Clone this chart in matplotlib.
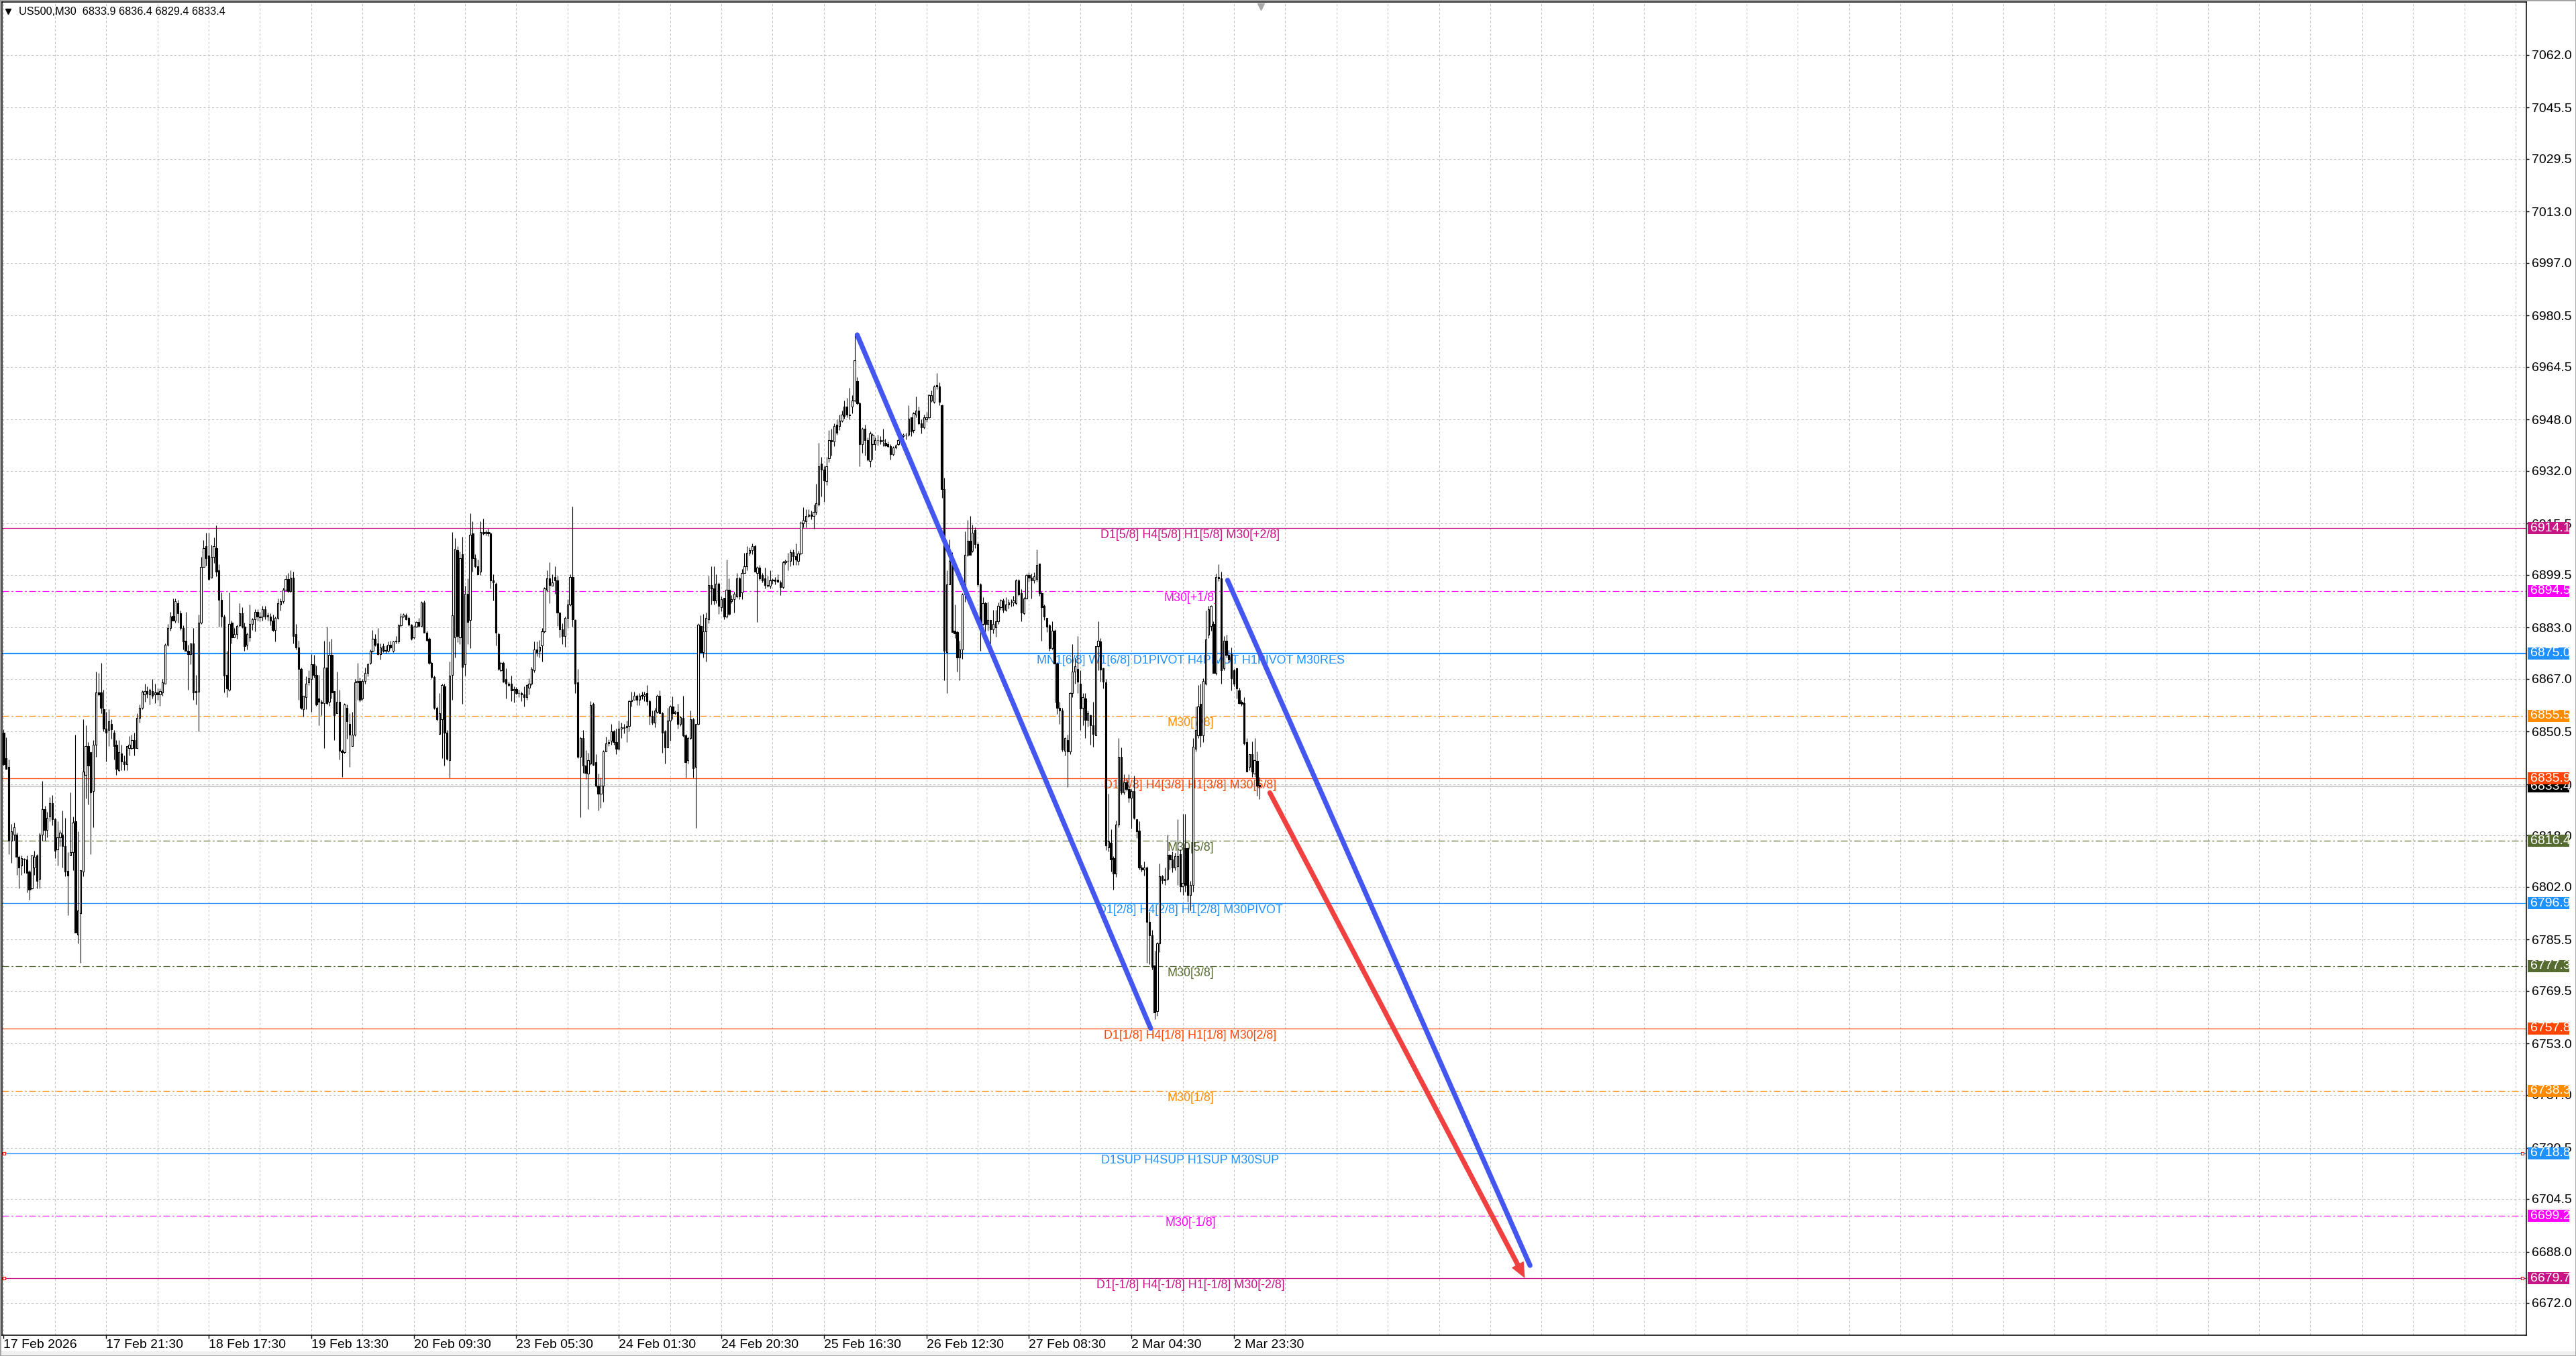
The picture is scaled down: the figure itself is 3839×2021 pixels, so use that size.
import numpy as np
import matplotlib.pyplot as plt
import matplotlib.transforms as mtransforms
from matplotlib.patches import Rectangle
from matplotlib.lines import Line2D

plt.rcParams['font.family'] = ['Liberation Sans', 'DejaVu Sans']
NARROW = ['Liberation Sans Narrow', 'Liberation Sans', 'DejaVu Sans']

header = "US500,M30  6833.9 6836.4 6829.4 6833.4"

# US500 M30 candles, oldest first: (open, high, low, close)
bars_17_20feb = [
    (6850.1, 6851.3, 6839.8, 6840.3), (6842.2, 6848.7, 6838.9, 6838.9), (6839.4, 6841.7, 6812.3, 6816.5),
    (6816.5, 6821.7, 6809.5, 6819.3), (6818.4, 6822.1, 6816.5, 6820.7), (6818.4, 6819.0, 6805.8, 6811.4),
    (6811.4, 6811.9, 6801.6, 6808.1), (6808.6, 6811.9, 6805.8, 6810.9), (6810.7, 6810.9, 6806.3, 6810.5),
    (6810.5, 6811.9, 6800.2, 6806.3), (6806.7, 6807.2, 6797.9, 6801.1), (6801.6, 6811.9, 6801.1, 6811.9),
    (6808.1, 6813.3, 6805.8, 6811.4), (6811.9, 6812.3, 6801.6, 6803.9), (6804.4, 6818.9, 6801.6, 6818.4),
    (6818.4, 6835.0, 6816.5, 6826.3), (6826.3, 6827.3, 6816.5, 6819.8), (6819.8, 6825.4, 6817.5, 6823.5),
    (6824.0, 6830.0, 6822.6, 6828.2), (6828.2, 6830.7, 6821.2, 6823.1), (6823.1, 6823.5, 6810.9, 6813.3),
    (6813.7, 6822.6, 6808.6, 6817.5), (6817.5, 6819.8, 6814.7, 6818.9), (6818.4, 6825.9, 6808.1, 6814.7),
    (6814.7, 6823.5, 6805.3, 6806.7), (6807.0, 6812.8, 6793.2, 6805.5), (6811.9, 6831.5, 6811.9, 6812.8),
    (6812.8, 6824.0, 6807.2, 6822.1), (6822.6, 6849.6, 6787.6, 6787.6), (6787.1, 6819.3, 6784.3, 6794.6),
    (6793.7, 6807.2, 6778.3, 6807.2), (6806.7, 6854.3, 6805.3, 6838.0), (6837.0, 6852.4, 6829.6, 6845.9),
    (6845.9, 6847.3, 6827.7, 6839.8), (6844.0, 6844.0, 6812.3, 6831.5), (6831.9, 6847.8, 6820.7, 6846.4),
    (6846.4, 6869.2, 6842.6, 6862.7), (6862.7, 6868.8, 6861.8, 6862.2), (6862.7, 6872.0, 6856.2, 6858.0),
    (6857.6, 6863.6, 6850.6, 6851.5), (6851.5, 6856.6, 6841.2, 6850.1), (6851.0, 6857.6, 6845.9, 6853.8),
    (6852.9, 6854.3, 6848.2, 6851.2), (6850.1, 6851.0, 6841.7, 6845.9), (6846.4, 6847.8, 6837.0, 6838.9),
    (6838.4, 6847.8, 6838.0, 6844.0), (6843.6, 6846.4, 6838.4, 6841.2), (6841.2, 6843.1, 6838.4, 6840.3),
    (6840.3, 6845.9, 6838.4, 6845.9), (6845.4, 6849.2, 6843.1, 6846.4), (6845.4, 6849.6, 6845.0, 6847.8),
    (6847.8, 6850.1, 6843.1, 6845.4), (6845.4, 6856.2, 6845.4, 6854.8), (6854.8, 6859.0, 6853.4, 6858.0),
    (6858.0, 6863.4, 6857.6, 6863.0), (6862.2, 6865.5, 6859.9, 6863.2), (6863.2, 6864.6, 6861.0, 6862.4),
    (6862.2, 6864.1, 6859.0, 6863.6), (6863.2, 6866.9, 6860.8, 6861.8), (6862.2, 6865.5, 6859.4, 6862.7),
    (6862.7, 6864.0, 6860.5, 6862.2), (6862.2, 6864.1, 6858.5, 6863.2), (6862.7, 6866.9, 6861.8, 6866.0),
    (6865.5, 6878.1, 6865.5, 6877.6), (6877.6, 6884.2, 6877.2, 6882.8), (6882.8, 6887.9, 6882.0, 6886.5),
    (6886.7, 6892.1, 6885.1, 6885.1), (6885.1, 6892.1, 6884.6, 6891.2), (6890.7, 6891.6, 6884.6, 6887.4),
    (6887.4, 6888.4, 6882.3, 6882.8), (6882.8, 6883.7, 6876.2, 6878.6), (6879.0, 6887.9, 6875.8, 6875.8),
    (6875.8, 6877.6, 6863.6, 6874.8), (6874.8, 6878.1, 6871.6, 6878.1), (6878.1, 6882.8, 6860.4, 6862.7),
    (6863.2, 6868.3, 6859.0, 6862.7), (6863.0, 6887.0, 6850.6, 6884.6), (6884.6, 6905.1, 6884.2, 6901.9),
    (6901.9, 6910.3, 6901.9, 6907.9), (6908.4, 6912.6, 6902.3, 6904.7), (6905.6, 6912.6, 6897.7, 6898.1),
    (6898.6, 6908.9, 6898.6, 6905.1), (6905.1, 6911.2, 6903.3, 6908.4), (6907.9, 6914.9, 6899.1, 6900.5),
    (6901.0, 6902.8, 6883.2, 6891.6), (6891.6, 6893.9, 6883.2, 6886.5), (6886.5, 6887.0, 6862.7, 6868.0),
    (6868.3, 6875.8, 6861.3, 6864.1), (6863.6, 6893.9, 6863.2, 6884.2), (6884.6, 6885.1, 6878.1, 6880.0),
    (6880.0, 6882.8, 6880.0, 6880.9), (6880.9, 6884.0, 6879.6, 6883.5), (6883.7, 6890.7, 6883.2, 6887.4),
    (6887.4, 6889.3, 6882.8, 6883.2), (6883.2, 6884.6, 6875.8, 6877.2), (6877.6, 6881.4, 6876.2, 6880.9),
    (6880.0, 6890.2, 6878.6, 6884.2), (6884.2, 6886.0, 6882.3, 6885.6), (6885.6, 6888.8, 6881.8, 6887.9),
    (6887.9, 6888.8, 6885.1, 6886.5), (6886.5, 6888.0, 6885.0, 6886.2), (6886.5, 6889.8, 6885.1, 6888.8),
    (6888.8, 6889.8, 6885.6, 6886.5), (6886.5, 6887.8, 6885.2, 6886.8), (6886.5, 6887.4, 6883.7, 6885.1),
    (6885.1, 6887.0, 6881.8, 6882.3), (6882.3, 6886.5, 6878.6, 6886.0), (6886.0, 6892.1, 6885.6, 6890.7),
    (6890.2, 6892.1, 6888.4, 6891.2), (6891.2, 6895.4, 6890.7, 6894.9), (6894.9, 6899.5, 6894.4, 6898.1),
    (6898.1, 6900.0, 6893.9, 6894.4), (6894.4, 6901.0, 6893.9, 6898.6), (6898.6, 6900.5, 6878.1, 6880.4),
    (6880.9, 6884.2, 6876.2, 6876.7), (6876.7, 6879.0, 6860.4, 6870.2), (6870.2, 6870.6, 6857.6, 6858.0),
    (6857.6, 6861.8, 6855.2, 6861.8), (6861.3, 6867.8, 6857.6, 6865.5), (6866.0, 6869.7, 6865.0, 6867.1),
    (6866.9, 6874.8, 6856.6, 6871.6), (6871.6, 6874.4, 6867.4, 6868.3), (6868.3, 6871.1, 6858.5, 6859.0),
    (6860.8, 6868.3, 6852.4, 6859.9), (6859.9, 6860.4, 6855.7, 6859.4), (6859.4, 6879.0, 6845.4, 6870.6),
    (6870.6, 6883.2, 6859.0, 6859.4), (6859.9, 6878.6, 6858.5, 6874.4), (6874.4, 6879.5, 6860.8, 6862.7),
    (6863.2, 6863.2, 6847.8, 6855.7), (6856.2, 6869.2, 6856.2, 6859.9), (6859.9, 6863.6, 6841.7, 6844.5),
    (6844.5, 6845.0, 6836.3, 6844.0), (6844.0, 6859.4, 6843.6, 6859.0), (6858.0, 6859.0, 6848.2, 6853.8),
    (6852.9, 6856.2, 6839.4, 6849.6), (6845.9, 6856.6, 6845.9, 6849.6), (6849.6, 6866.9, 6849.2, 6866.0),
    (6866.0, 6872.0, 6860.4, 6866.4), (6866.4, 6867.4, 6859.9, 6860.4), (6860.8, 6866.9, 6860.4, 6866.4),
    (6866.4, 6870.6, 6865.5, 6868.8), (6868.8, 6872.0, 6867.8, 6871.6), (6872.0, 6876.2, 6871.6, 6875.8),
    (6875.8, 6882.3, 6875.3, 6879.5), (6879.5, 6880.9, 6877.2, 6877.6), (6878.1, 6882.8, 6874.4, 6874.8),
    (6874.8, 6878.1, 6873.0, 6876.7), (6877.2, 6878.1, 6875.3, 6875.8), (6875.8, 6877.4, 6874.9, 6876.0),
    (6875.8, 6878.6, 6875.3, 6877.6), (6877.6, 6878.8, 6876.4, 6876.9), (6875.8, 6879.0, 6875.3, 6878.6),
    (6879.0, 6880.4, 6878.1, 6878.6), (6878.6, 6884.2, 6878.1, 6883.7), (6883.7, 6887.4, 6883.2, 6886.5),
]

bars_20_24feb = [
    (6886.5, 6887.6, 6886.2, 6887.0), (6886.9, 6887.4, 6885.3, 6885.7), (6886.1, 6886.5, 6883.6, 6884.0),
    (6884.0, 6884.2, 6879.1, 6879.5), (6880.0, 6883.6, 6879.6, 6883.2), (6883.2, 6885.0, 6883.0, 6884.8),
    (6884.8, 6886.0, 6883.4, 6883.6), (6883.6, 6891.2, 6883.2, 6890.9), (6890.9, 6891.5, 6881.5, 6881.5),
    (6881.5, 6882.0, 6878.7, 6879.1), (6879.5, 6879.9, 6871.6, 6872.0), (6872.0, 6872.5, 6867.1, 6867.5),
    (6867.5, 6867.9, 6857.6, 6858.0), (6858.0, 6858.4, 6853.9, 6854.3), (6849.7, 6862.5, 6849.7, 6856.3),
    (6854.3, 6865.4, 6842.3, 6865.0), (6864.6, 6865.4, 6839.8, 6850.1), (6850.1, 6851.0, 6841.5, 6841.9),
    (6841.5, 6872.5, 6836.1, 6867.9), (6868.3, 6912.9, 6860.5, 6886.9), (6879.9, 6910.9, 6873.7, 6907.6),
    (6907.2, 6908.4, 6878.5, 6880.3), (6879.9, 6906.7, 6877.8, 6904.7), (6906.0, 6911.3, 6859.2, 6870.8),
    (6871.6, 6896.0, 6867.9, 6893.5), (6893.5, 6898.5, 6877.8, 6884.8), (6885.3, 6918.7, 6876.6, 6912.1),
    (6912.5, 6916.3, 6900.5, 6904.7), (6904.7, 6906.0, 6901.8, 6902.2), (6902.2, 6904.3, 6899.7, 6899.7),
    (6900.5, 6916.3, 6899.5, 6912.9), (6912.9, 6917.1, 6912.1, 6912.5), (6912.5, 6913.6, 6911.9, 6912.9),
    (6912.9, 6914.0, 6911.6, 6912.5), (6912.5, 6912.9, 6895.2, 6897.7), (6897.7, 6899.7, 6891.5, 6897.2),
    (6896.8, 6897.2, 6877.4, 6881.5), (6881.1, 6881.5, 6869.6, 6870.0), (6869.6, 6872.5, 6869.2, 6872.0),
    (6872.0, 6872.5, 6865.8, 6866.2), (6867.0, 6870.4, 6860.9, 6865.4), (6865.4, 6866.2, 6864.6, 6865.0),
    (6865.4, 6867.9, 6860.1, 6863.4), (6863.4, 6864.6, 6859.6, 6863.8), (6863.8, 6864.4, 6862.1, 6862.5),
    (6862.5, 6863.6, 6861.2, 6862.5), (6862.5, 6863.0, 6860.0, 6862.1), (6862.1, 6864.6, 6858.4, 6861.3),
    (6861.3, 6865.4, 6860.5, 6865.0), (6864.2, 6867.1, 6862.1, 6865.4), (6865.4, 6870.8, 6865.0, 6870.0),
    (6869.6, 6878.6, 6869.1, 6876.2), (6876.2, 6878.6, 6874.1, 6875.3), (6875.8, 6879.1, 6873.7, 6877.0),
    (6877.4, 6882.8, 6872.5, 6881.9), (6881.9, 6895.6, 6881.5, 6895.2), (6894.8, 6901.0, 6894.3, 6898.5),
    (6898.5, 6903.4, 6890.6, 6896.4), (6896.0, 6899.7, 6896.0, 6897.2), (6898.9, 6902.2, 6893.5, 6897.7),
    (6897.7, 6899.3, 6883.6, 6887.7), (6887.7, 6887.7, 6879.9, 6882.4), (6882.4, 6884.4, 6877.8, 6880.3),
    (6880.3, 6886.5, 6877.0, 6886.1), (6886.1, 6891.9, 6882.8, 6890.2), (6890.2, 6899.7, 6889.8, 6898.9),
    (6898.9, 6920.8, 6883.2, 6885.7), (6885.3, 6885.7, 6862.5, 6865.4), (6865.8, 6870.0, 6842.3, 6842.7),
    (6842.7, 6848.9, 6823.7, 6848.5), (6848.5, 6851.0, 6837.7, 6839.8), (6839.8, 6844.8, 6835.7, 6837.7),
    (6837.3, 6843.9, 6826.2, 6841.5), (6840.6, 6860.1, 6840.2, 6858.8), (6859.2, 6859.6, 6839.8, 6840.2),
    (6841.0, 6843.5, 6833.2, 6833.6), (6833.6, 6837.3, 6825.8, 6831.1), (6831.1, 6836.1, 6826.6, 6833.6),
    (6833.6, 6844.8, 6828.6, 6844.3), (6844.3, 6848.9, 6844.3, 6846.8), (6846.8, 6848.1, 6846.0, 6847.2),
    (6847.7, 6853.0, 6846.4, 6850.5), (6850.5, 6851.0, 6846.4, 6847.2), (6847.2, 6851.4, 6843.5, 6845.2),
    (6845.2, 6853.9, 6844.8, 6851.4), (6851.4, 6853.4, 6848.5, 6851.8), (6851.8, 6853.0, 6850.0, 6851.6),
    (6851.8, 6853.9, 6847.2, 6852.2), (6852.2, 6860.5, 6850.5, 6860.1), (6860.1, 6862.9, 6858.4, 6860.5),
    (6860.5, 6862.9, 6860.5, 6861.7), (6861.7, 6862.1, 6858.8, 6860.5), (6860.5, 6862.5, 6858.8, 6861.7),
    (6861.7, 6863.0, 6860.6, 6861.9), (6861.7, 6862.9, 6860.1, 6862.1), (6862.5, 6865.0, 6858.8, 6860.1),
    (6860.1, 6860.5, 6852.6, 6855.5), (6855.5, 6857.2, 6852.6, 6853.4), (6853.4, 6858.0, 6851.8, 6857.2),
    (6856.7, 6862.1, 6856.3, 6861.7), (6861.7, 6863.4, 6856.3, 6856.3), (6856.3, 6856.7, 6843.9, 6850.1),
    (6850.5, 6851.0, 6840.6, 6845.6), (6845.6, 6858.0, 6845.6, 6853.9), (6853.9, 6858.8, 6847.7, 6858.4),
    (6858.4, 6861.5, 6854.3, 6856.3), (6856.3, 6857.0, 6855.9, 6856.7), (6856.7, 6859.2, 6851.4, 6853.0),
    (6853.0, 6855.5, 6852.2, 6855.1), (6854.7, 6861.7, 6848.9, 6849.3), (6849.3, 6849.7, 6836.1, 6841.0),
    (6841.5, 6848.9, 6840.6, 6848.5), (6848.5, 6857.2, 6848.1, 6854.3), (6854.3, 6854.7, 6836.1, 6839.0),
    (6839.4, 6853.0, 6820.4, 6853.0), (6853.0, 6884.4, 6852.6, 6884.0), (6883.6, 6886.9, 6875.3, 6875.3),
    (6875.3, 6887.3, 6873.7, 6881.9), (6881.9, 6887.7, 6872.5, 6886.1), (6885.7, 6899.3, 6884.4, 6896.4),
    (6896.4, 6902.2, 6890.2, 6895.2), (6895.2, 6902.2, 6890.2, 6891.5), (6891.5, 6899.7, 6890.6, 6896.8),
    (6896.8, 6897.2, 6887.3, 6889.8), (6889.4, 6892.7, 6888.1, 6892.0), (6892.3, 6892.3, 6885.7, 6886.5),
    (6886.5, 6904.3, 6886.1, 6894.8), (6894.8, 6898.5, 6886.9, 6887.3), (6891.2, 6893.1, 6890.6, 6892.0),
    (6891.9, 6894.3, 6887.7, 6893.5), (6892.7, 6900.1, 6892.3, 6898.5), (6898.5, 6898.9, 6891.9, 6892.7),
    (6893.9, 6901.4, 6891.9, 6900.1), (6900.1, 6906.3, 6900.1, 6902.2), (6902.2, 6908.4, 6901.0, 6906.3),
    (6906.3, 6908.0, 6905.5, 6907.2), (6907.2, 6909.2, 6905.9, 6908.4), (6908.4, 6908.8, 6900.5, 6900.5),
    (6900.1, 6902.2, 6884.8, 6901.8), (6901.8, 6902.6, 6897.7, 6898.5), (6899.5, 6900.0, 6897.2, 6897.7),
    (6898.5, 6901.8, 6895.2, 6896.4), (6896.4, 6899.3, 6895.6, 6896.0), (6896.0, 6901.0, 6895.2, 6897.7),
    (6897.7, 6898.5, 6896.8, 6897.9), (6897.9, 6898.8, 6896.6, 6897.5), (6897.9, 6899.7, 6897.2, 6897.4),
    (6897.2, 6897.7, 6893.1, 6895.6), (6895.6, 6903.9, 6895.2, 6903.4), (6903.4, 6904.2, 6902.8, 6903.9),
    (6903.9, 6906.3, 6901.0, 6903.8),
]

bars_24_27feb = [
    (6903.8, 6907.4, 6902.2, 6906.6), (6906.6, 6907.4, 6902.6, 6905.4), (6905.4, 6909.4, 6902.6, 6904.2),
    (6903.8, 6907.0, 6902.6, 6906.2), (6906.2, 6916.3, 6905.8, 6915.9), (6915.5, 6920.7, 6914.3, 6916.7),
    (6916.3, 6919.9, 6914.3, 6917.9), (6917.9, 6919.9, 6917.5, 6918.3), (6918.3, 6919.5, 6916.8, 6917.9),
    (6917.9, 6921.5, 6913.9, 6919.1), (6919.1, 6927.9, 6918.3, 6921.9), (6921.5, 6940.8, 6921.1, 6933.5),
    (6934.3, 6936.3, 6923.9, 6932.3), (6932.3, 6933.5, 6922.3, 6929.1), (6928.7, 6936.3, 6927.5, 6933.5),
    (6935.9, 6944.8, 6934.7, 6941.6), (6941.6, 6945.2, 6936.8, 6941.2), (6941.2, 6946.8, 6939.6, 6946.0),
    (6946.4, 6948.0, 6943.2, 6944.0), (6946.0, 6949.6, 6944.8, 6947.6), (6947.6, 6950.8, 6947.2, 6949.6),
    (6952.0, 6954.0, 6948.4, 6949.2), (6952.0, 6954.8, 6948.8, 6949.6), (6949.6, 6958.0, 6948.0, 6949.4),
    (6952.0, 6955.6, 6950.0, 6954.0), (6954.0, 6974.5, 6953.6, 6966.6), (6960.0, 6961.2, 6952.8, 6953.2),
    (6953.2, 6953.6, 6933.5, 6940.4), (6940.4, 6945.6, 6937.6, 6945.2), (6945.2, 6946.4, 6936.8, 6941.6),
    (6941.6, 6942.4, 6935.1, 6935.5), (6935.1, 6944.4, 6933.1, 6943.6), (6940.4, 6943.6, 6935.5, 6943.2),
    (6940.4, 6942.4, 6938.4, 6941.6), (6941.6, 6943.2, 6940.0, 6941.6), (6941.6, 6942.8, 6940.4, 6941.2),
    (6941.2, 6945.2, 6939.6, 6941.6), (6940.8, 6942.0, 6939.6, 6940.0), (6940.4, 6941.2, 6939.2, 6939.6),
    (6939.6, 6940.4, 6935.5, 6937.2), (6937.2, 6939.6, 6936.8, 6939.2), (6939.2, 6940.4, 6938.8, 6940.0),
    (6940.4, 6944.4, 6940.0, 6941.6), (6941.6, 6943.6, 6941.2, 6942.8), (6942.8, 6943.6, 6942.4, 6943.2),
    (6943.2, 6944.0, 6941.8, 6943.2), (6943.2, 6952.4, 6942.8, 6948.4), (6948.8, 6948.8, 6942.8, 6944.4),
    (6944.8, 6950.4, 6944.0, 6950.0), (6949.6, 6955.2, 6948.8, 6950.8), (6950.8, 6952.0, 6946.4, 6946.8),
    (6946.8, 6948.0, 6943.6, 6945.6), (6945.6, 6949.6, 6945.2, 6948.8), (6948.0, 6950.4, 6947.2, 6948.8),
    (6948.8, 6956.0, 6948.4, 6955.6), (6954.0, 6957.2, 6953.6, 6955.6), (6953.6, 6958.8, 6953.2, 6958.4),
    (6958.8, 6962.5, 6957.6, 6958.4), (6958.4, 6959.6, 6952.4, 6953.6), (6952.4, 6952.8, 6923.5, 6926.3),
    (6926.3, 6929.9, 6866.5, 6875.7), (6875.3, 6901.0, 6862.5, 6896.6), (6896.6, 6910.6, 6896.6, 6903.8),
    (6903.8, 6906.6, 6881.7, 6881.7), (6882.1, 6890.2, 6879.7, 6881.3), (6881.7, 6882.1, 6869.3, 6873.7),
    (6873.7, 6878.9, 6866.5, 6876.1), (6876.1, 6893.8, 6873.3, 6893.4), (6893.4, 6913.1, 6891.0, 6905.8),
    (6905.8, 6916.7, 6905.4, 6910.2), (6910.2, 6917.9, 6905.8, 6905.8), (6907.0, 6915.1, 6906.6, 6912.7),
    (6913.5, 6914.3, 6907.8, 6909.0), (6909.0, 6909.8, 6895.8, 6896.6), (6896.6, 6897.0, 6875.7, 6884.1),
    (6884.1, 6892.6, 6883.7, 6890.6), (6890.6, 6891.0, 6881.7, 6884.1), (6884.1, 6891.0, 6882.1, 6885.3),
    (6885.3, 6885.3, 6878.1, 6882.5), (6882.5, 6888.6, 6881.3, 6884.1), (6883.0, 6888.6, 6880.1, 6884.9),
    (6884.9, 6890.9, 6884.1, 6889.8), (6889.4, 6891.8, 6888.6, 6891.4), (6891.4, 6892.2, 6887.8, 6888.6),
    (6888.6, 6892.6, 6888.2, 6890.2), (6890.2, 6891.8, 6889.0, 6890.9), (6890.9, 6892.0, 6889.6, 6890.9),
    (6890.9, 6893.0, 6889.8, 6891.4), (6890.6, 6898.2, 6890.2, 6897.8), (6897.8, 6898.2, 6893.0, 6893.4),
    (6893.8, 6895.0, 6885.0, 6887.8), (6887.4, 6892.6, 6887.0, 6892.2), (6892.2, 6899.8, 6891.8, 6899.4),
    (6899.4, 6900.2, 6897.4, 6898.6), (6898.6, 6899.8, 6892.2, 6897.8), (6897.8, 6900.2, 6897.0, 6899.0),
    (6898.2, 6907.4, 6897.4, 6902.6), (6903.0, 6903.0, 6893.0, 6893.8), (6893.8, 6894.2, 6878.9, 6889.4),
    (6889.8, 6890.2, 6885.3, 6886.5), (6886.1, 6886.1, 6881.7, 6883.3), (6883.7, 6884.1, 6875.7, 6876.5),
    (6876.5, 6884.9, 6876.1, 6882.1), (6882.1, 6882.5, 6859.6, 6871.7), (6871.7, 6872.1, 6856.0, 6858.0),
]

bars_27feb_3mar = [
    (6858.0, 6859.8, 6853.0, 6857.0), (6857.0, 6858.0, 6844.4, 6845.0), (6844.6, 6848.8, 6843.0, 6848.4),
    (6847.9, 6849.5, 6833.2, 6844.4), (6844.4, 6862.8, 6843.5, 6862.6), (6862.6, 6877.9, 6861.2, 6869.2),
    (6869.2, 6873.7, 6865.4, 6871.0), (6870.0, 6880.4, 6862.6, 6866.1), (6865.4, 6869.6, 6851.1, 6857.7),
    (6858.0, 6862.6, 6852.5, 6861.2), (6860.8, 6862.6, 6848.6, 6854.2), (6854.2, 6857.0, 6852.1, 6856.3),
    (6855.6, 6855.9, 6846.5, 6852.5), (6852.5, 6859.8, 6845.8, 6849.7), (6849.3, 6877.2, 6849.3, 6877.2),
    (6877.2, 6884.9, 6869.6, 6879.0), (6878.6, 6879.7, 6866.1, 6869.9), (6870.3, 6870.6, 6864.0, 6866.1),
    (6866.0, 6867.0, 6813.5, 6815.0), (6814.4, 6831.2, 6813.0, 6816.2), (6815.8, 6820.0, 6806.8, 6810.6),
    (6810.9, 6811.6, 6801.2, 6806.1), (6806.1, 6822.8, 6805.0, 6821.4), (6821.4, 6848.6, 6820.7, 6842.7),
    (6842.7, 6845.5, 6830.8, 6831.5), (6831.5, 6837.1, 6830.8, 6834.6), (6834.6, 6836.0, 6832.0, 6832.6),
    (6832.6, 6837.1, 6828.4, 6829.8), (6829.8, 6832.6, 6820.3, 6831.9), (6831.9, 6836.7, 6823.1, 6823.5),
    (6823.1, 6823.1, 6817.2, 6819.3), (6819.6, 6822.4, 6807.4, 6808.1), (6808.1, 6808.8, 6806.8, 6807.4),
    (6807.4, 6810.0, 6805.5, 6808.1), (6808.1, 6808.5, 6778.2, 6791.1), (6791.1, 6794.2, 6777.8, 6786.9),
    (6786.9, 6788.6, 6776.1, 6777.1), (6777.5, 6782.0, 6760.7, 6762.8), (6763.2, 6784.8, 6761.8, 6784.4),
    (6784.4, 6809.2, 6781.6, 6805.4), (6805.4, 6805.8, 6802.9, 6804.0), (6804.0, 6808.0, 6802.5, 6804.5),
    (6804.5, 6818.3, 6804.0, 6812.0), (6812.0, 6812.3, 6807.4, 6810.6), (6810.6, 6813.0, 6806.5, 6808.1),
    (6808.1, 6812.7, 6807.1, 6811.6), (6808.5, 6823.1, 6802.6, 6811.6), (6812.3, 6813.7, 6800.5, 6802.2),
    (6802.2, 6824.9, 6799.4, 6803.3), (6814.1, 6824.9, 6800.5, 6802.6), (6814.1, 6814.4, 6797.3, 6799.4),
    (6799.4, 6803.9, 6794.6, 6802.6), (6802.6, 6848.6, 6800.5, 6845.8), (6845.1, 6858.4, 6844.4, 6851.1),
    (6849.3, 6865.0, 6848.6, 6858.4), (6859.1, 6865.4, 6845.8, 6849.3), (6849.3, 6867.1, 6847.2, 6866.4),
    (6865.4, 6888.4, 6865.0, 6879.3), (6880.7, 6889.8, 6879.7, 6888.7), (6883.5, 6890.1, 6882.1, 6889.8),
    (6884.2, 6884.9, 6868.9, 6868.9), (6868.9, 6899.9, 6868.2, 6898.9), (6898.9, 6902.7, 6897.5, 6898.5),
    (6898.5, 6900.6, 6865.4, 6869.6), (6870.3, 6880.4, 6869.6, 6879.0), (6879.0, 6880.7, 6873.7, 6874.4),
    (6874.4, 6876.0, 6872.0, 6873.0), (6874.8, 6876.9, 6863.3, 6867.1), (6869.6, 6870.0, 6864.7, 6865.4),
    (6870.3, 6870.6, 6860.8, 6864.0), (6863.3, 6864.3, 6859.1, 6859.4), (6859.8, 6860.5, 6858.5, 6859.1),
    (6859.4, 6861.2, 6846.5, 6846.9), (6847.2, 6848.6, 6838.1, 6838.1), (6839.5, 6843.4, 6838.5, 6843.4),
    (6843.4, 6847.5, 6836.4, 6838.1), (6837.4, 6848.6, 6836.4, 6841.6), (6841.3, 6844.4, 6830.5, 6833.6),
    (6833.9, 6836.4, 6829.4, 6833.4),
]

time_labels = ["17 Feb 2026", "17 Feb 21:30", "18 Feb 17:30", "19 Feb 13:30", "20 Feb 09:30",
               "23 Feb 05:30", "24 Feb 01:30", "24 Feb 20:30", "25 Feb 16:30", "26 Feb 12:30",
               "27 Feb 08:30", "2 Mar 04:30", "2 Mar 23:30"]
price_ticks = [7062.0, 7045.5, 7029.5, 7013.0, 6997.0, 6980.5, 6964.5, 6948.0, 6932.0, 6915.5,
               6899.5, 6883.0, 6867.0, 6850.5, 6834.0, 6818.0, 6802.0, 6785.5, 6769.5, 6753.0,
               6737.0, 6720.5, 6704.5, 6688.0, 6672.0]
bid = 6833.4

# Murrey math levels
levels = [6914.1, 6894.5, 6875.0, 6855.5, 6835.9, 6816.4, 6796.9, 6777.3, 6757.8, 6738.3,
          6718.8, 6699.2, 6679.7]
level_names = ["D1[5/8] H4[5/8] H1[5/8] M30[+2/8]", "M30[+1/8]",
               "MN1[6/8] W1[6/8] D1PIVOT H4PIVOT H1PIVOT M30RES", "M30[7/8]",
               "D1[3/8] H4[3/8] H1[3/8] M30[6/8]", "M30[5/8]", "D1[2/8] H4[2/8] H1[2/8] M30PIVOT",
               "M30[3/8]", "D1[1/8] H4[1/8] H1[1/8] M30[2/8]", "M30[1/8]", "D1SUP H4SUP H1SUP M30SUP",
               "M30[-1/8]", "D1[-1/8] H4[-1/8] H1[-1/8] M30[-2/8]"]
alert_levels = [6718.8, 6679.7]

# drawn objects, (bar, price) end points
channel_upper = [(333.0, 6974.5), (447.5, 6757.8)]
channel_lower = [(477.5, 6897.8), (595.5, 6683.7)]
target_arrow = [(494.0, 6831.4), (593.5, 6679.7)]

# styles
level_colors = ['#C71585', '#FF00FF', '#1E90FF', '#FF8C00', '#FF4500', '#556B2F', '#1E90FF',
                '#556B2F', '#FF4500', '#FF8C00', '#1E90FF', '#FF00FF', '#C71585']
level_dashed = [False, True, False, True, False, True, False, True, False, True, False, True, False]
label_bar = 463

W, H = 3839, 2021
fig = plt.figure(figsize=(W / 100, H / 100), dpi=100, facecolor='white')
ax = fig.add_axes([3 / W, 31 / H, 3762 / W, 1987 / H])
ax.set_xlim(-0.63, 984.2)
ax.set_ylim(6661.9, 7078.5)

# grid
grid_kw = dict(color='#C0C0C0', lw=0.75, ls=(0, (3, 3)), zorder=0.5)
for xb in range(0, 985, 20):
    ax.axvline(xb, **grid_kw)
for p in price_ticks:
    ax.axhline(p, **grid_kw)

# level lines
for p, col, dashed in zip(levels, level_colors, level_dashed):
    lw = 1.6 if p == 6875.0 else 0.9
    ax.axhline(p, color=col, lw=lw, ls=(0, (8, 3, 2, 3)) if dashed else '-', zorder=1)
ax.axhline(bid, color='#C0C0C0', lw=1.1, zorder=1)

for p, txt, col in zip(levels, level_names, level_colors):
    ax.annotate(txt, (label_bar, p), xytext=(0, -1.5), textcoords='offset points',
                ha='center', va='top', color=col, fontsize=12.9, zorder=2)

# candles
ohlc = np.array(bars_17_20feb + bars_20_24feb + bars_24_27feb + bars_27feb_3mar)
o, h, l, c = ohlc.T
xs = np.arange(len(ohlc))
rise = c >= o
lo = np.minimum(o, c)
ht = np.abs(c - o)
ax.vlines(xs, l, h, color='black', lw=0.8, zorder=3)
ax.bar(xs[rise], ht[rise], bottom=lo[rise], width=0.6, facecolor='white',
       edgecolor='black', lw=0.8, zorder=4)
ax.bar(xs[~rise], ht[~rise], bottom=lo[~rise], width=0.6, facecolor='black',
       edgecolor='black', lw=0.8, zorder=4)

# trend lines and arrow
for seg in (channel_upper, channel_lower):
    (x0, y0), (x1, y1) = seg
    ax.plot([x0, x1], [y0, y1], color='#4456F0', lw=5.3, solid_capstyle='round', zorder=7)
(x0, y0), (x1, y1) = target_arrow
k = 0.975
ax.plot([x0, x0 + k * (x1 - x0)], [y0, y0 + k * (y1 - y0)], color='#F04040', lw=5.3,
        solid_capstyle='round', zorder=7)
ax.annotate('', xy=(x1, y1), xytext=(x0 + 0.95 * (x1 - x0), y0 + 0.95 * (y1 - y0)),
            arrowprops=dict(arrowstyle='-|>,head_length=0.75,head_width=0.33', mutation_scale=20,
                            color='#F04040', lw=1, shrinkA=0, shrinkB=0), zorder=7)

# axes and ticks
for s in ax.spines.values():
    s.set_linewidth(1.1)
    s.set_color('black')
    s.set_zorder(10)
ax.set_xticks(np.arange(0, 481, 40))
ax.set_xticklabels(time_labels, fontsize=14, family=NARROW)
plt.setp(ax.get_xticklabels(), ha='left')
ax.tick_params(axis='x', direction='out', length=3.5, width=1, pad=0.5)
ax.yaxis.tick_right()
ax.set_yticks(price_ticks)
ax.set_yticklabels([f'{p:.1f}' for p in price_ticks], fontsize=14, family=NARROW)
ax.tick_params(axis='y', direction='out', length=3, width=1, pad=2.5)

# price tags on the right scale
tag_tr = mtransforms.blended_transform_factory(ax.transAxes, ax.transData)
box_x0 = (3767 - 3) / 3762
box_w = 62 / 3762
box_h = 18 / 4.77
tags = [(bid, 'black', 8)] + [(p, col, 9) for p, col in zip(levels, level_colors)]
for p, col, z in tags:
    ax.add_patch(Rectangle((box_x0, p - box_h / 2), box_w, box_h, transform=tag_tr,
                           facecolor=col, edgecolor='none', clip_on=False, zorder=z))
    ax.text((3771 - 3) / 3762, p, f'{p:.1f}', transform=tag_tr, color='white', fontsize=14,
            family=NARROW, ha='left', va='center', clip_on=False, zorder=z + 0.1)

# alert marks and chart shift marker
edge_tr = mtransforms.blended_transform_factory(ax.transAxes, ax.transData)
for p in alert_levels:
    ax.plot([0.9985, 0.0007], [p, p], 's', transform=edge_tr, ms=3.2, mfc='white',
            mec='red', mew=0.8, clip_on=False, zorder=9)
shift_tr = mtransforms.blended_transform_factory(ax.transData, ax.transAxes)
ax.plot([len(ohlc) - 0.4], [0.9965], marker='v', ms=7, color='#A8A8A8', transform=shift_tr,
        clip_on=False, zorder=11)

# header
fig.add_artist(Line2D([12 / W], [1 - 17 / H], marker='v', ms=6, color='black',
                      transform=fig.transFigure))
fig.text(28 / W, 1 - 17 / H, header, fontsize=11.7, ha='left', va='center')

fig.patches.append(Rectangle((0, 0), 1, 7 / H, transform=fig.transFigure,
                             facecolor='#F0F0F0', edgecolor='none'))
fig.patches.append(Rectangle((0, 0), 1, 1, transform=fig.transFigure, fill=False,
                             edgecolor='#A0A0A0', lw=2))

fig.savefig('out.png', dpi=100)
